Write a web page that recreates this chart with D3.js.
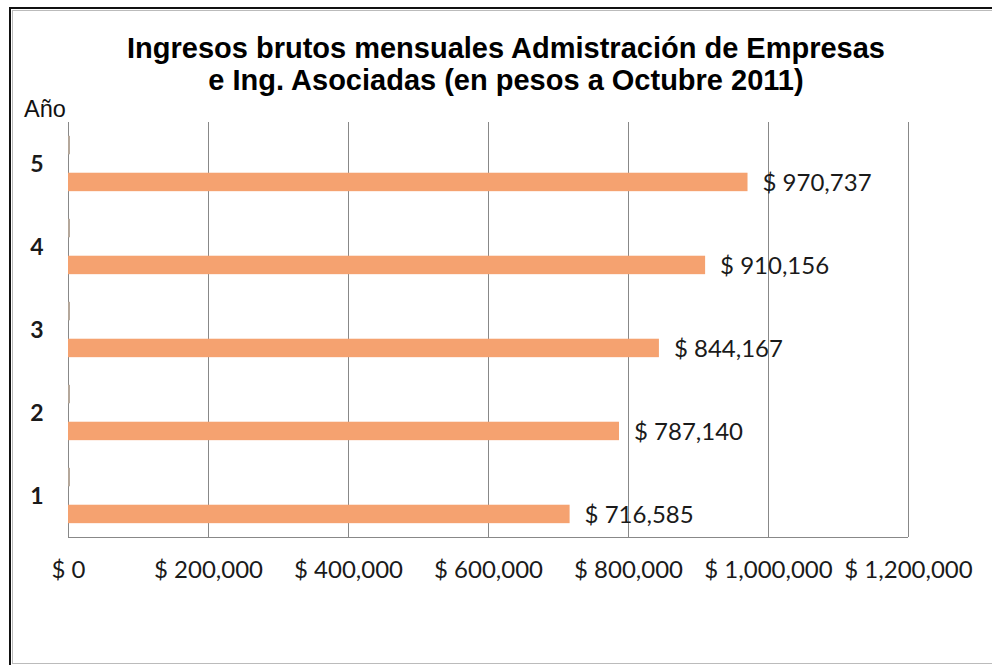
<!DOCTYPE html>
<html>
<head>
<meta charset="utf-8">
<script src="https://cdn.jsdelivr.net/npm/d3@7"></script>
<style>
  body { margin: 0; background: #fff; }
  svg { display: block; }
</style>
</head>
<body>
<svg width="992" height="665"></svg>
<script>
// data
var years = [1, 2, 3, 4, 5];
var ingresos = [716585, 787140, 844167, 910156, 970737];
var xTicks = [0, 200000, 400000, 600000, 800000, 1000000, 1200000];
var titleLines = ["Ingresos brutos mensuales Admistración de Empresas",
                  "e Ing. Asociadas (en pesos a Octubre 2011)"];

var svg = d3.select("svg"),
    margin = {top: 122, right: 84, bottom: 128, left: 68},
    width = +svg.attr("width") - margin.left - margin.right,
    height = +svg.attr("height") - margin.top - margin.bottom;

var money = function(v){ return "$ " + d3.format(",")(v); };

// frame
svg.append("rect")
    .attr("x", 10).attr("y", 8)
    .attr("width", 1000).attr("height", 700)
    .attr("fill", "none")
    .attr("stroke", "#111")
    .attr("stroke-width", 2);
svg.append("rect")
    .attr("x", 12.5).attr("y", 10.5)
    .attr("width", 1000).attr("height", 653)
    .attr("fill", "none")
    .attr("stroke", "#bbb")
    .attr("stroke-width", 1);

var x = d3.scaleLinear().domain([0, 1200000]).range([0, width]),
    y = d3.scaleBand().domain(years.slice().reverse()).range([0, height]),
    slot = d3.scaleBand().domain(["anio", "vacio", "ingreso"])
             .range([0, y.bandwidth()]).paddingOuter(0.75);

var g = svg.append("g")
    .attr("transform", "translate(" + margin.left + "," + margin.top + ")");

// vertical gridlines
g.append("g")
    .attr("class", "grid")
    .attr("transform", "translate(0," + height + ")")
    .call(d3.axisBottom(x).tickValues(xTicks).tickSize(-height).tickFormat(""))
    .call(function(s){
      s.select(".domain").remove();
      s.selectAll("line").attr("stroke", "#888").attr("shape-rendering", "crispEdges");
    });

// bottom + left axis lines
g.append("line")
    .attr("x1", 0).attr("x2", width)
    .attr("y1", height + 0.5).attr("y2", height + 0.5)
    .attr("stroke", "#888");
g.append("line")
    .attr("x1", 0.5).attr("x2", 0.5)
    .attr("y1", 0).attr("y2", height)
    .attr("stroke", "#888");

// x tick labels
g.append("g")
    .attr("transform", "translate(0," + height + ")")
    .call(d3.axisBottom(x).tickValues(xTicks).tickSize(0).tickPadding(24).tickFormat(money))
    .call(function(s){
      s.select(".domain").remove();
      s.selectAll("text")
        .attr("fill", "#1a1a1a")
        .style("font-family", "Lato, 'Open Sans', sans-serif")
        .style("font-size", "24px");
    });

// year labels
g.selectAll(".year")
    .data(years)
  .enter().append("text")
    .attr("class", "year")
    .attr("x", -31)
    .attr("y", function(d){ return y(d) + y.bandwidth() / 2; })
    .attr("dy", "0.36em")
    .attr("text-anchor", "middle")
    .attr("fill", "#1a1a1a")
    .style("font-family", "Lato, sans-serif")
    .style("font-weight", "bold")
    .style("font-size", "23px")
    .text(function(d){ return d; });

// "Año" series (tiny values next to the axis)
g.selectAll(".anio")
    .data(years)
  .enter().append("rect")
    .attr("class", "anio")
    .attr("x", 0)
    .attr("y", function(d){ return y(d) + slot("anio"); })
    .attr("width", function(d){ return Math.max(x(d), 2); })
    .attr("height", slot.bandwidth())
    .attr("fill", "#b5a89b");

// ingresos bars
var ing = years.map(function(d, i){ return {year: d, v: ingresos[i]}; });

g.selectAll(".bar")
    .data(ing)
  .enter().append("rect")
    .attr("class", "bar")
    .attr("x", 0)
    .attr("y", function(d){ return y(d.year) + slot("ingreso"); })
    .attr("width", function(d){ return x(d.v); })
    .attr("height", slot.bandwidth())
    .attr("fill", "#f5a270");

g.selectAll(".val")
    .data(ing)
  .enter().append("text")
    .attr("class", "val")
    .attr("x", function(d){ return x(d.v) + 15; })
    .attr("y", function(d){ return y(d.year) + slot("ingreso") + slot.bandwidth() / 2; })
    .attr("dy", "0.36em")
    .attr("fill", "#1a1a1a")
    .style("font-family", "Lato, 'Open Sans', sans-serif")
    .style("font-size", "24px")
    .text(function(d){ return money(d.v); });

// axis title
svg.append("text")
    .attr("x", 24).attr("y", 117)
    .attr("fill", "#111")
    .style("font-family", "'Liberation Sans', Arial, sans-serif")
    .style("font-size", "23.5px")
    .text("Año");

// chart title
svg.append("text")
    .attr("text-anchor", "middle")
    .attr("fill", "#000")
    .style("font-family", "'Liberation Sans', Arial, sans-serif")
    .style("font-weight", "bold")
    .style("font-size", "29px")
  .selectAll("tspan")
    .data(titleLines)
  .enter().append("tspan")
    .attr("x", 506)
    .attr("y", function(d, i){ return 58 + i * 32; })
    .text(function(d){ return d; });
</script>
</body>
</html>
